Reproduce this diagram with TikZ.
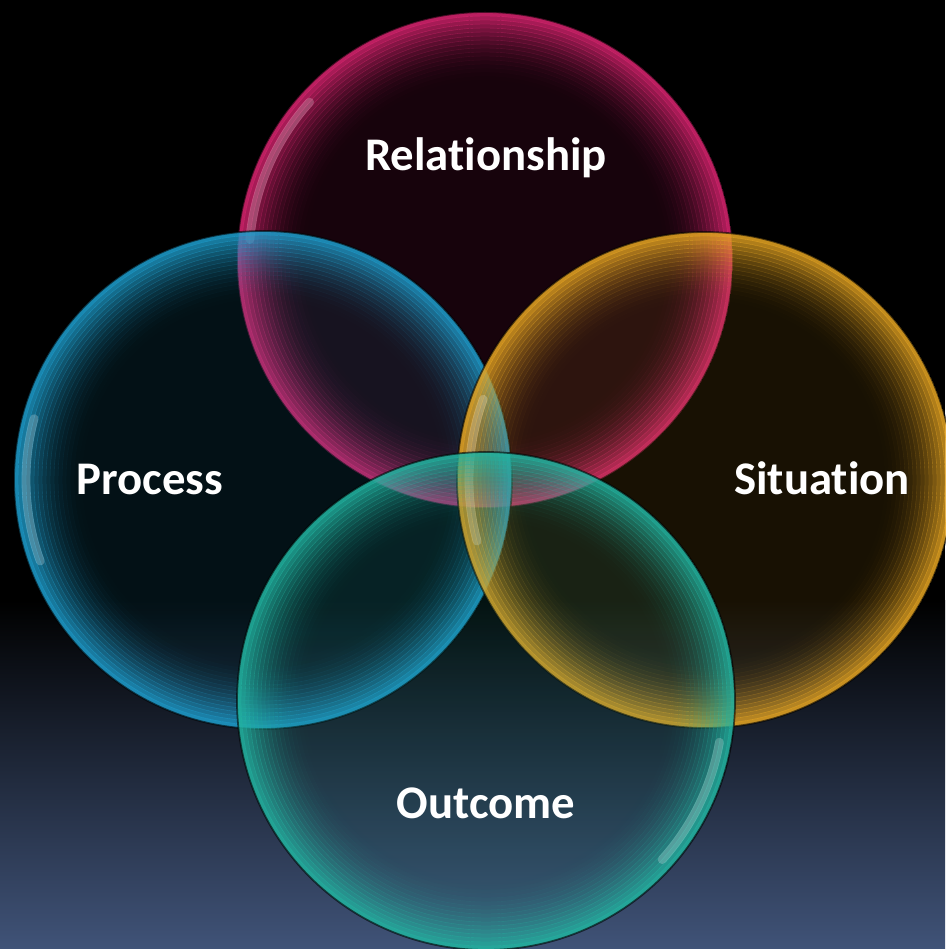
\documentclass[tikz,border=0pt]{standalone}
\usepackage{fontspec}
\setmainfont[Ligatures=NoCommon]{Carlito}
\definecolor{relc}{HTML}{D8246F}
\definecolor{proc}{HTML}{1E9CCB}
\definecolor{sitc}{HTML}{E3A322}
\definecolor{outc}{HTML}{22B3A0}
\definecolor{bgbot}{HTML}{405378}
\newcommand\drawbubble[6]{%
  \begin{scope}
    \clip (#1,#2) circle[radius=#3];
    \fill[#4, fill opacity=0.11] (#1,#2) circle[radius=#3];
    \foreach \k in {0,...,17}{%
      \pgfmathsetmacro\op{0.85*(1-\k/18)^2.2}%
      \draw[#4, line width=1.25pt, draw opacity=\op] (#1,#2) circle[radius=#3-2-\k*4];
    }
    \draw[white, line width=2.5pt, draw opacity=0.22, line cap=round]
      ([shift={(-#5:#3-12)}]#1,#2) arc[start angle=-#5, end angle=-#6, radius=#3-12];
  \end{scope}
  \draw[black, line width=0.5pt, draw opacity=0.6] (#1,#2) circle[radius=#3];
}
\begin{document}
\begin{tikzpicture}[x=0.01cm,y=-0.01cm,
  lbl/.style={text=white, font=\fontsize{13.3}{15}\selectfont\bfseries, anchor=base, inner sep=0pt}]
\useasboundingbox (0,0) rectangle (945,949);
\fill[black] (0,0) rectangle (945,601);
\shade[top color=black, bottom color=bgbot] (0,600) rectangle (945,949);
\drawbubble{485}{260}{248}{relc}{138}{175}
\drawbubble{263}{480}{249}{proc}{165}{200}
\drawbubble{705}{480}{248}{sitc}{160}{195}
\drawbubble{486}{701}{249}{outc}{-10}{-42}
\node[lbl] (trel) at (486,171) {Relationship};
\node[lbl] (tpro) at (150,494) {Process};
\node[lbl] (tsit) at (822,494) {Situation};
\node[lbl] (tout) at (486,818) {Outcome};
\end{tikzpicture}
\end{document}
